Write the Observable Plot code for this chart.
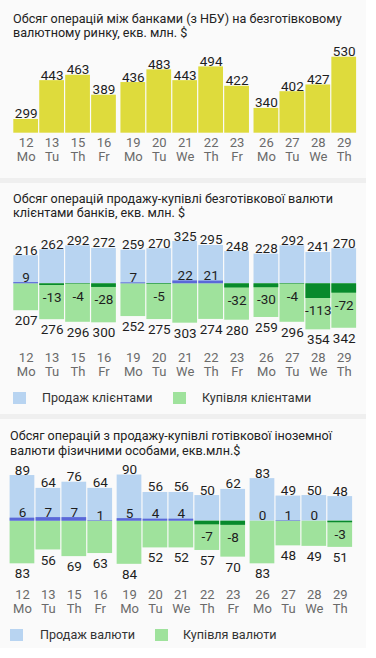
<!DOCTYPE html>
<html><head><meta charset="utf-8">
<script src="https://cdn.jsdelivr.net/npm/d3@7"></script>
<script src="https://cdn.jsdelivr.net/npm/@observablehq/plot@0.6"></script>
<style>
body{margin:0;background:#fff;font-family:Roboto, sans-serif;}
#wrap{position:relative;width:366px;height:648px;background:#fafafa;overflow:hidden;}
.sep{position:absolute;left:0;width:366px;height:5px;background:#efefef;}
.title{position:absolute;width:360px;font-size:12.6px;line-height:14.5px;color:#222;white-space:nowrap;}
.chart{position:absolute;left:0;}
.sw{position:absolute;width:13px;height:12px;}
.lt{position:absolute;font-size:12.6px;line-height:14px;color:#333;white-space:nowrap;}
</style></head>
<body>
<div id="wrap"></div>
<script>
const days = ["12","13","15","16","19","20","21","22","23","26","27","28","29"];
const weekdays = ["Mo","Tu","Th","Fr","Mo","Tu","We","Th","Fr","Mo","Tu","We","Th"];
const weeks = [0,0,0,0,1,1,1,1,1,2,2,2,2];

const interbank = [299,443,463,389,436,483,443,494,422,340,402,427,530];

const clientSell = [216,262,292,272,259,270,325,295,248,228,292,241,270];
const clientBuy  = [207,276,296,300,252,275,303,274,280,259,296,354,342];
const clientNet  = [9,-13,-4,-28,7,-5,22,21,-32,-30,-4,-113,-72];

const cashSell = [89,64,76,64,90,56,56,50,62,83,49,50,48];
const cashBuy  = [83,56,69,63,84,52,52,57,70,83,48,49,51];
const cashNet  = [6,7,7,1,5,4,4,-7,-8,0,1,0,-3];

const title1 = ["Обсяг операцій між банками (з НБУ) на безготівковому", "валютному ринку, екв. млн. $"];
const title2 = ["Обсяг операцій продажу-купівлі безготівкової валюти", "клієнтами банків, екв. млн. $"];
const title3 = ["Обсяг операцій з продажу-купівлі готівкової іноземної", "валюти фізичними особами, екв.млн.$"];
const legend2 = ["Продаж клієнтами", "Купівля клієнтами"];
const legend3 = ["Продаж валюти", "Купівля валюти"];

const C = {yellow:"#dedb3c", blue:"#b8d4f1", green:"#9fe29c", netPos:"#5a68d8", netNeg:"#088a2c", label:"#1e1e1e", tick:"#6a6a6a"};
const GAP = 0.13;
const rows = days.map((d,i)=>({day:d, wd:weekdays[i], pos:i+weeks[i]*GAP,
  interbank:interbank[i], cs:clientSell[i], cb:clientBuy[i], cn:clientNet[i],
  hs:cashSell[i], hb:cashBuy[i], hn:cashNet[i]}));
const xDomain = [0, days.length + 2*GAP];
const cx = d => d.pos + 0.5;
const style = {background:"transparent", fontFamily:"Roboto, sans-serif", fontSize:"13px", overflow:"visible"};

const wrap = document.getElementById("wrap");
function add(el, cls, css){ el.className = cls; Object.assign(el.style, css); wrap.appendChild(el); return el; }
function title(lines, left, top){ const t = document.createElement("div"); t.innerHTML = lines.join("<br>"); add(t, "title", {left:left+"px", top:top+"px"}); }
function legend(labels, cols, top, xs){
  labels.forEach((l,i)=>{
    add(document.createElement("div"), "sw", {left:xs[i][0]+"px", top:top+"px", background:cols[i]});
    const s = document.createElement("div"); s.textContent = l; add(s, "lt", {left:xs[i][1]+"px", top:(top-1)+"px"});
  });
}
function place(svg, top){ svg.classList.add("chart"); svg.style.top = top+"px"; svg.style.position="absolute"; wrap.appendChild(svg); }

const tickLabels = (dyv) => Plot.text(rows, {x: cx, frameAnchor:"bottom", text: d => d.day + "\n" + d.wd, lineAnchor:"top", dy: dyv, fill: C.tick, fontSize: 13, lineHeight: 1.08});

// separators
add(document.createElement("div"), "sep", {top:"178px"});
add(document.createElement("div"), "sep", {top:"414px"});

// Panel 1
title(title1, 13, 11.5);
place(Plot.plot({
  width:366, height:130, marginLeft:12.7, marginRight:9.3, marginTop:16.7, marginBottom:37.3,
  x:{domain:xDomain, axis:null}, y:{domain:[248,530], axis:null}, style,
  marks:[
    Plot.rectY(rows, {x1:"pos", x2:d=>d.pos+1, y1:248, y2:"interbank", fill:C.yellow, insetLeft:0.6, insetRight:0.6}),
    Plot.text(rows, {x:cx, y:"interbank", text:d=>String(d.interbank), lineAnchor:"bottom", dy:-1, fill:C.label, fontSize:13.5}),
    tickLabels(4)
  ]
}), 40);

// Panel 2
title(title2, 13, 191.5);
place(Plot.plot({
  width:366, height:170, marginLeft:12.7, marginRight:9.3, marginTop:20.4, marginBottom:59.9,
  x:{domain:xDomain, axis:null}, y:{domain:[-360,330], axis:null}, style,
  marks:[
    Plot.rectY(rows, {x1:"pos", x2:d=>d.pos+1, y1:0, y2:"cs", fill:C.blue, insetLeft:0.6, insetRight:0.6}),
    Plot.rectY(rows, {x1:"pos", x2:d=>d.pos+1, y1:0, y2:d=>-d.cb, fill:C.green, insetLeft:0.6, insetRight:0.6}),
    Plot.rectY(rows, {x1:"pos", x2:d=>d.pos+1, y1:0, y2:"cn", fill:d=>d.cn>0?C.netPos:C.netNeg, insetLeft:0.6, insetRight:0.6}),
    Plot.text(rows, {x:cx, y:"cs", text:d=>String(d.cs), lineAnchor:"bottom", dy:-1, fill:C.label, fontSize:13.5}),
    Plot.text(rows, {x:cx, y:d=>-d.cb, text:d=>String(d.cb), lineAnchor:"top", dy:5, fill:C.label, fontSize:13.5}),
    Plot.text(rows.filter(d=>d.cn>=0), {x:cx, y:"cn", text:d=>String(d.cn), lineAnchor:"bottom", dy:-1, fill:C.label, fontSize:13.5}),
    Plot.text(rows.filter(d=>d.cn<0), {x:cx, y:"cn", text:d=>String(d.cn), lineAnchor:"top", dy:7, fill:C.label, fontSize:13.5}),
    tickLabels(21)
  ]
}), 220);
legend(legend2, [C.blue, C.green], 392, [[13,42],[173,202]]);

// Panel 3
title(title3, 10, 429);
place(Plot.plot({
  width:366, height:155, marginLeft:9, marginRight:13.3, marginTop:13.5, marginBottom:48.1,
  x:{domain:xDomain, axis:null}, y:{domain:[-90,92], axis:null}, style,
  marks:[
    Plot.rectY(rows, {x1:"pos", x2:d=>d.pos+1, y1:0, y2:"hs", fill:C.blue, insetLeft:0.6, insetRight:0.6}),
    Plot.rectY(rows, {x1:"pos", x2:d=>d.pos+1, y1:0, y2:d=>-d.hb, fill:C.green, insetLeft:0.6, insetRight:0.6}),
    Plot.rectY(rows, {x1:"pos", x2:d=>d.pos+1, y1:0, y2:"hn", fill:d=>d.hn>0?C.netPos:C.netNeg, insetLeft:0.6, insetRight:0.6}),
    Plot.text(rows, {x:cx, y:"hs", text:d=>String(d.hs), lineAnchor:"bottom", dy:-1, fill:C.label, fontSize:13.5}),
    Plot.text(rows, {x:cx, y:d=>-d.hb, text:d=>String(d.hb), lineAnchor:"top", dy:5, fill:C.label, fontSize:13.5}),
    Plot.text(rows.filter(d=>d.hn>=0), {x:cx, y:"hn", text:d=>String(d.hn), lineAnchor:"bottom", dy:-1, fill:C.label, fontSize:13.5}),
    Plot.text(rows.filter(d=>d.hn<0), {x:cx, y:"hn", text:d=>String(d.hn), lineAnchor:"top", dy:7, fill:C.label, fontSize:13.5}),
    tickLabels(22)
  ]
}), 460);
legend(legend3, [C.blue, C.green], 629, [[10,40],[155,183]]);
</script>
</body></html>
